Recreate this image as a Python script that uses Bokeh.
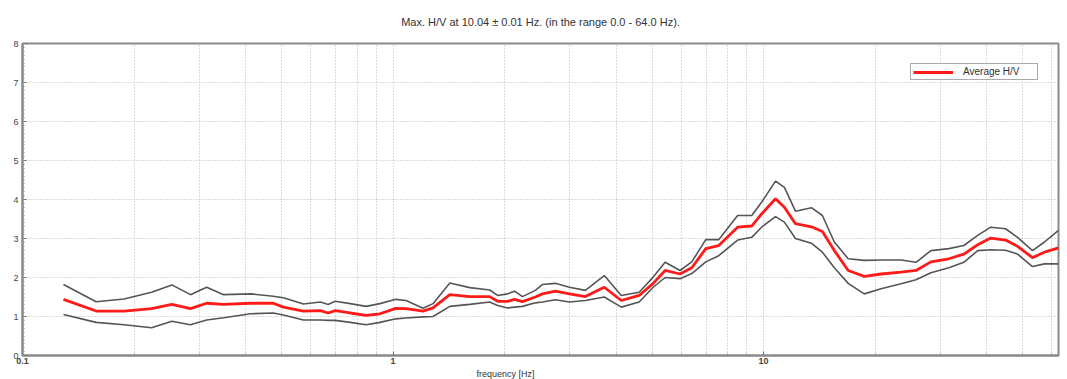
from bokeh.plotting import figure
from bokeh.models import FixedTicker, CustomJSTickFormatter, Title
from bokeh.embed import file_html
from bokeh.resources import INLINE

freq = [0.129, 0.158, 0.188, 0.223, 0.253, 0.284, 0.314, 0.349, 0.413, 0.475,
        0.506, 0.573, 0.637, 0.668, 0.698, 0.766, 0.846, 0.922, 1.018, 1.084,
        1.205, 1.282, 1.423, 1.611, 1.823, 1.916, 2.038, 2.128, 2.235, 2.421,
        2.529, 2.742, 2.992, 3.304, 3.716, 4.130, 4.616, 5.035, 5.424, 5.948,
        6.401, 6.982, 7.566, 8.511, 9.290, 9.876, 10.77, 11.38, 12.19, 13.46,
        14.41, 15.52, 16.92, 18.69, 20.75, 23.50, 25.78, 28.29, 31.62, 34.71,
        37.84, 41.02, 44.98, 48.45, 53.17, 57.28, 62.50]

avg_hv = [1.44, 1.14, 1.14, 1.20, 1.31, 1.20, 1.34, 1.31, 1.34, 1.34,
          1.24, 1.14, 1.15, 1.09, 1.15, 1.09, 1.03, 1.07, 1.21, 1.20,
          1.14, 1.22, 1.56, 1.51, 1.51, 1.39, 1.39, 1.44, 1.38, 1.50,
          1.58, 1.65, 1.58, 1.51, 1.75, 1.41, 1.54, 1.85, 2.18, 2.09,
          2.25, 2.74, 2.82, 3.29, 3.32, 3.63, 4.02, 3.80, 3.38, 3.30,
          3.18, 2.69, 2.18, 2.03, 2.09, 2.14, 2.18, 2.40, 2.48, 2.60,
          2.84, 3.01, 2.96, 2.80, 2.51, 2.65, 2.76]

upper_hv = [1.82, 1.38, 1.45, 1.62, 1.81, 1.56, 1.75, 1.56, 1.58, 1.52,
            1.48, 1.32, 1.37, 1.31, 1.39, 1.33, 1.26, 1.33, 1.44, 1.41,
            1.21, 1.33, 1.86, 1.74, 1.68, 1.54, 1.58, 1.65, 1.51, 1.67,
            1.82, 1.85, 1.75, 1.67, 2.05, 1.54, 1.62, 2.01, 2.39, 2.18,
            2.40, 2.97, 2.97, 3.59, 3.59, 3.93, 4.47, 4.31, 3.70, 3.79,
            3.59, 2.91, 2.48, 2.44, 2.45, 2.45, 2.39, 2.69, 2.74, 2.82,
            3.08, 3.29, 3.25, 3.03, 2.69, 2.91, 3.21]

lower_hv = [1.05, 0.85, 0.79, 0.71, 0.88, 0.79, 0.91, 0.97, 1.07, 1.09,
            1.04, 0.91, 0.91, 0.90, 0.90, 0.85, 0.79, 0.85, 0.94, 0.96,
            0.99, 1.00, 1.26, 1.31, 1.37, 1.28, 1.22, 1.24, 1.26, 1.35,
            1.37, 1.43, 1.37, 1.41, 1.50, 1.24, 1.37, 1.75, 2.00, 1.97,
            2.10, 2.40, 2.56, 2.96, 3.03, 3.29, 3.56, 3.42, 3.00, 2.88,
            2.65, 2.25, 1.85, 1.58, 1.71, 1.84, 1.94, 2.12, 2.25, 2.39,
            2.69, 2.71, 2.70, 2.60, 2.28, 2.35, 2.35]

x_major = [0.1, 1, 10]
x_minor = [0.2, 0.3, 0.4, 0.5, 0.6, 0.7, 0.8, 0.9,
           2, 3, 4, 5, 6, 7, 8, 9, 20, 30, 40, 50, 60]
y_major = [0, 1, 2, 3, 4, 5, 6, 7, 8]
y_minor = [i / 10 for i in range(0, 81)]

title_text = "Max. H/V at 10.04 \u00b1 0.01 Hz. (in the range 0.0 - 64.0 Hz)."

p = figure(width=1067, height=379, x_axis_type="log",
           x_range=(0.1, 62.5), y_range=(0, 8),
           output_backend="svg", toolbar_location=None,
           min_border_left=22, min_border_right=9,
           min_border_top=43, min_border_bottom=24)

p.title.text = title_text
p.title.align = "center"
p.title.vertical_align = "top"
p.title.text_font = "Liberation Sans"
p.title.text_font_size = "11px"
p.title.text_font_style = "normal"
p.title.text_color = "#333333"
p.title.standoff = 28

p.outline_line_color = "#8a8a8a"
p.outline_line_width = 2
p.background_fill_color = "white"
p.border_fill_color = "white"

# axes
p.xaxis.ticker = FixedTicker(ticks=x_major, minor_ticks=x_minor)
p.xaxis.formatter = CustomJSTickFormatter(code="return tick.toString();")
p.yaxis.ticker = FixedTicker(ticks=y_major, minor_ticks=y_minor)
for ax in (p.xaxis, p.yaxis):
    ax.axis_line_color = "#8a8a8a"
    ax.axis_line_width = 2
    ax.major_tick_in = 4
    ax.major_tick_out = 0
    ax.minor_tick_in = 2
    ax.minor_tick_out = 0
    ax.major_tick_line_color = "#707070"
    ax.minor_tick_line_color = "#909090"
    ax.major_label_text_font = "Liberation Sans"
    ax.major_label_text_font_size = "9px"
    ax.major_label_text_color = "#444444"
    ax.major_label_standoff = 2
p.yaxis.major_label_standoff = 4
p.xaxis.major_label_text_font_style = "bold"

p.add_layout(Title(text="frequency [Hz]", align="left", offset=454,
                   text_font="Liberation Sans", text_font_size="9px",
                   text_font_style="normal", text_color="#333333",
                   standoff=0), "below")

# grids
p.xgrid.ticker = FixedTicker(ticks=x_major, minor_ticks=x_minor)
p.xgrid.grid_line_color = "#b8b8b8"
p.xgrid.grid_line_dash = "1 2"
p.xgrid.minor_grid_line_color = "#b8b8b8"
p.xgrid.minor_grid_line_dash = "1 2"
p.ygrid.ticker = FixedTicker(ticks=y_major)
p.ygrid.grid_line_color = "#b8b8b8"
p.ygrid.grid_line_dash = "1 2"

p.line(freq, upper_hv, line_color="#555555", line_width=1.6)
p.line(freq, lower_hv, line_color="#555555", line_width=1.6)
p.line(freq, avg_hv, line_color="#ff1a1a", line_width=2.8, legend_label="Average H/V")

lg = p.legend[0]
lg.location = "top_right"
lg.margin = 20
lg.padding = 2
lg.spacing = 0
lg.border_line_color = "#555555"
lg.border_line_width = 1
lg.background_fill_color = "white"
lg.background_fill_alpha = 1
lg.label_text_font = "Liberation Sans"
lg.label_text_font_size = "10px"
lg.label_text_color = "#333333"
lg.glyph_width = 40
lg.glyph_height = 10
lg.label_height = 10
lg.label_width = 72
lg.label_standoff = 10

open("out.html", "w").write(file_html(p, INLINE))
